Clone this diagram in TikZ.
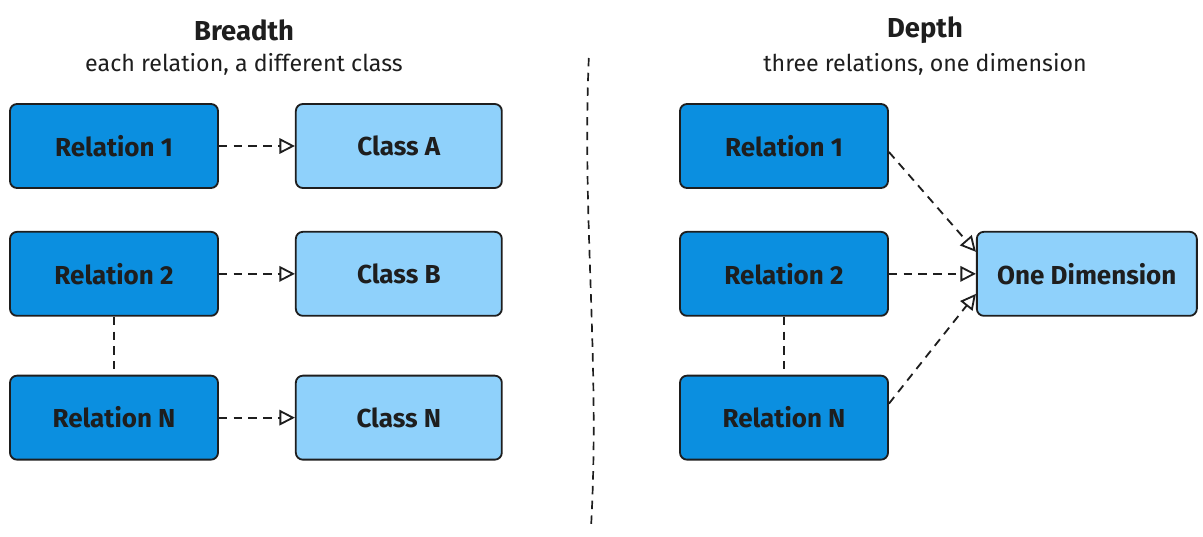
\documentclass[tikz,border=0pt]{standalone}
\usepackage{fontspec}
\setmainfont{Fira Sans}
\usepackage{tikz}
\usetikzlibrary{arrows.meta,positioning,calc}

\definecolor{relfill}{HTML}{0B8FE0}
\definecolor{clsfill}{HTML}{8FD1FB}
\definecolor{inkblack}{HTML}{1E1E1E}

\begin{document}
\begin{tikzpicture}[
    relbox/.style={rectangle, rounded corners=5pt, draw=inkblack, line width=1.3pt, fill=relfill, minimum width=5.2cm, minimum height=2.1cm, font=\fontsize{18.5}{22}\selectfont\bfseries, text=inkblack},
    clsbox/.style={rectangle, rounded corners=5pt, draw=inkblack, line width=1.3pt, fill=clsfill, minimum width=5.15cm, minimum height=2.1cm, font=\fontsize{18.5}{22}\selectfont\bfseries, text=inkblack},
    title/.style={font=\fontsize{19.5}{23}\selectfont\bfseries, text=inkblack},
    subtitle/.style={font=\fontsize{16.5}{20}\selectfont, text=inkblack},
    arrow/.style={-{Triangle[open, length=11pt, width=11pt]}, dash pattern=on 6pt off 4.5pt, line width=1.3pt, draw=inkblack},
    link/.style={dash pattern=on 6pt off 4.5pt, line width=1.2pt, draw=inkblack}
]
\useasboundingbox (0,0) rectangle (30.075,-13.425);

% Breadth side
\node[title] (breadth) at (6.1,-0.75) {Breadth};
\node[subtitle] (breadthsub) at (6.1,-1.6) {each relation, a different class};

\node[relbox] (rel1) at (2.85,-3.65) {Relation 1};
\node[relbox, below=1.05cm of rel1] (rel2) {Relation 2};
\node[relbox, below=1.45cm of rel2] (relN) {Relation N};

\node[clsbox, right=1.9cm of rel1] (clsA) {Class A};
\node[clsbox, right=1.9cm of rel2] (clsB) {Class B};
\node[clsbox, right=1.9cm of relN] (clsN) {Class N};

% Divider
\coordinate (divtop) at (14.72,-1.45);
\coordinate (divbot) at (14.78,-13.1);
\draw[link] (divtop) .. controls (14.55,-5.5) and (15.0,-9) .. (divbot);

% Depth side
\node[title] (depth) at (23.125,-0.75) {Depth};
\node[subtitle] (depthsub) at (23.125,-1.6) {three relations, one dimension};

\node[relbox] (drel1) at (19.6,-3.65) {Relation 1};
\node[relbox, below=1.05cm of drel1] (drel2) {Relation 2};
\node[relbox, below=1.45cm of drel2] (drelN) {Relation N};

\node[clsbox, minimum width=5.5cm, right=2.175cm of drel2] (onedim) {One Dimension};

% Arrows
\draw[arrow] (rel1) -- (clsA);
\draw[arrow] (rel2) -- (clsB);
\draw[arrow] (relN) -- (clsN);
\draw[link] (rel2.south) -- (relN.north);

\draw[arrow] ($(drel1.east)+(0,-0.15)$) -- ($(onedim.west)+(0,0.55)$);
\draw[arrow] (drel2.east) -- (onedim.west);
\draw[arrow] ($(drelN.east)+(0,0.35)$) -- ($(onedim.west)+(0,-0.5)$);
\draw[link] (drel2.south) -- (drelN.north);

\end{tikzpicture}
\end{document}
